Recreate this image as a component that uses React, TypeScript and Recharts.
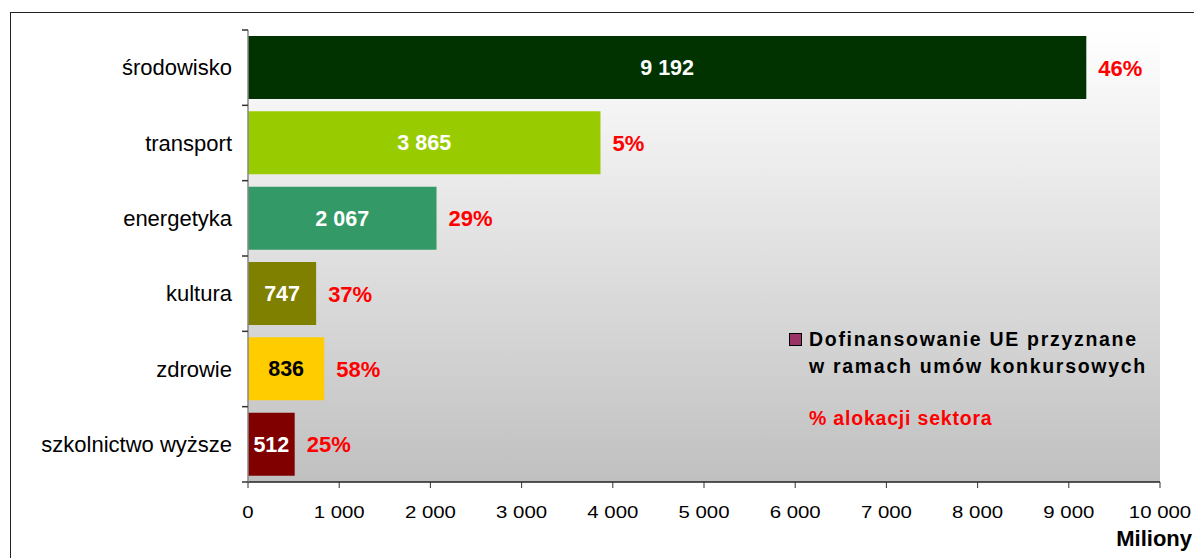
import React from "react";
import { BarChart, Bar, XAxis, YAxis, Cell, LabelList, Label } from "recharts";

const categories = ["środowisko", "transport", "energetyka", "kultura", "zdrowie", "szkolnictwo wyższe"];
const values = [9192, 3865, 2067, 747, 836, 512];
const allocation = ["46%", "5%", "29%", "37%", "58%", "25%"];
const xTicks = [0, 1000, 2000, 3000, 4000, 5000, 6000, 7000, 8000, 9000, 10000];

const barColors = ["#003300", "#99cc00", "#339966", "#808000", "#ffcc00", "#800000"];
const valueLabelColors = ["#ffffff", "#ffffff", "#ffffff", "#ffffff", "#000000", "#ffffff"];

const data = categories.map((c, i) => ({ name: c, value: values[i], pct: allocation[i] }));

const fmt = (v: number) => String(v).replace(/\B(?=(\d{3})+(?!\d))/g, " ");

const FONT = "'Liberation Sans', Arial, sans-serif";
const W = 1194;
const H = 558;
const TOP = 30;
const XAXIS_H = 76;

const CatTick = (props: any) => {
  const { x, y, payload, index } = props;
  const half = payload && payload.offset ? payload.offset : (H - TOP - XAXIS_H) / categories.length / 2;
  return (
    <g>
      <line x1={x + 2} x2={x + 8} y1={y - half} y2={y - half} stroke="#333" strokeWidth={1.5} />
      {index === categories.length - 1 && (
        <line x1={x + 2} x2={x + 8} y1={y + half} y2={y + half} stroke="#333" strokeWidth={1.5} />
      )}
      <text x={x - 8} y={y} dy={7.5} textAnchor="end" fontSize={22} fill="#000" fontFamily={FONT}>
        {payload.value}
      </text>
    </g>
  );
};

const NumTick = (props: any) => {
  const { x, y, payload } = props;
  return (
    <text transform={`translate(${x},${y + 30}) scale(1.2,1)`} textAnchor="middle" fontSize={17}
      fill="#000" fontFamily={FONT}>
      {fmt(payload.value)}
    </text>
  );
};

const ValueLabel = (props: any) => {
  const { x, y, width, height, value, index } = props;
  return (
    <text x={x + width / 2} y={y + height / 2} dy={7.5} textAnchor="middle"
      fontSize={21.5} fontWeight="bold" fill={valueLabelColors[index]} fontFamily={FONT}>
      {fmt(value)}
    </text>
  );
};

const PctLabel = (props: any) => {
  const { x, y, width, height, value } = props;
  return (
    <text x={x + width + 12} y={y + height / 2} dy={8} textAnchor="start"
      fontSize={22} fontWeight="bold" fill="#ff0000" fontFamily={FONT}>
      {value}
    </text>
  );
};

const UnitLabel = (props: any) => {
  const vb = props.viewBox || { x: 248, y: 482, width: 912, height: 76 };
  return (
    <text x={vb.x + vb.width + 32} y={vb.y + 64} textAnchor="end" fontSize={22} fontWeight="bold"
      fill="#000" fontFamily={FONT}>
      Miliony
    </text>
  );
};

export default function App() {
  return (
    <div style={{ position: "absolute", left: 0, top: 0, width: W, height: H, overflow: "hidden", background: "#fff" }}>
      <div style={{ position: "absolute", left: 10, top: 12, width: 1300, height: 700, border: "1.5px solid #222", boxSizing: "border-box" }} />
      <div style={{
        position: "absolute", left: 248, top: TOP, width: 1160 - 248, height: H - TOP - XAXIS_H,
        background: "linear-gradient(to bottom, #ffffff 0%, #c0c0c0 100%)"
      }} />
      <div style={{ position: "absolute", left: 0, top: 0 }}>
        <BarChart width={W} height={H} data={data} layout="vertical"
          margin={{ top: TOP, right: 34, bottom: 0, left: 10 }} barCategoryGap="8%">
          <XAxis type="number" domain={[0, 10000]} ticks={xTicks}
            height={XAXIS_H} axisLine={{ stroke: "#222", strokeWidth: 1.5 }}
            tickLine={{ stroke: "#333" }} tickSize={6} tickMargin={0}
            tick={<NumTick />} interval={0} allowDataOverflow>
            <Label content={<UnitLabel />} />
          </XAxis>
          <YAxis type="category" dataKey="name" width={238} axisLine={{ stroke: "#888", strokeWidth: 1.5 }}
            tickLine={false} tick={<CatTick />} interval={0} />
          <Bar dataKey="value" isAnimationActive={false}>
            {data.map((d, i) => (
              <Cell key={d.name} fill={barColors[i]} />
            ))}
            <LabelList dataKey="value" content={<ValueLabel />} />
            <LabelList dataKey="pct" content={<PctLabel />} />
          </Bar>
        </BarChart>
      </div>
      <div style={{ position: "absolute", left: 789, top: 326, fontFamily: FONT, fontWeight: "bold", fontSize: 19.5, lineHeight: "27px", whiteSpace: "nowrap" }}>
        <span style={{ position: "absolute", left: 0, top: 7, width: 11, height: 11, background: "#993366", border: "1px solid #000" }} />
        <div style={{ position: "absolute", left: 20, top: 0, color: "#000", letterSpacing: 1.7 }}>
          Dofinansowanie UE przyznane<br />w ramach umów konkursowych
        </div>
        <div style={{ position: "absolute", left: 20, top: 79, color: "#ff0000", letterSpacing: 0.8 }}>% alokacji sektora</div>
      </div>
    </div>
  );
}
